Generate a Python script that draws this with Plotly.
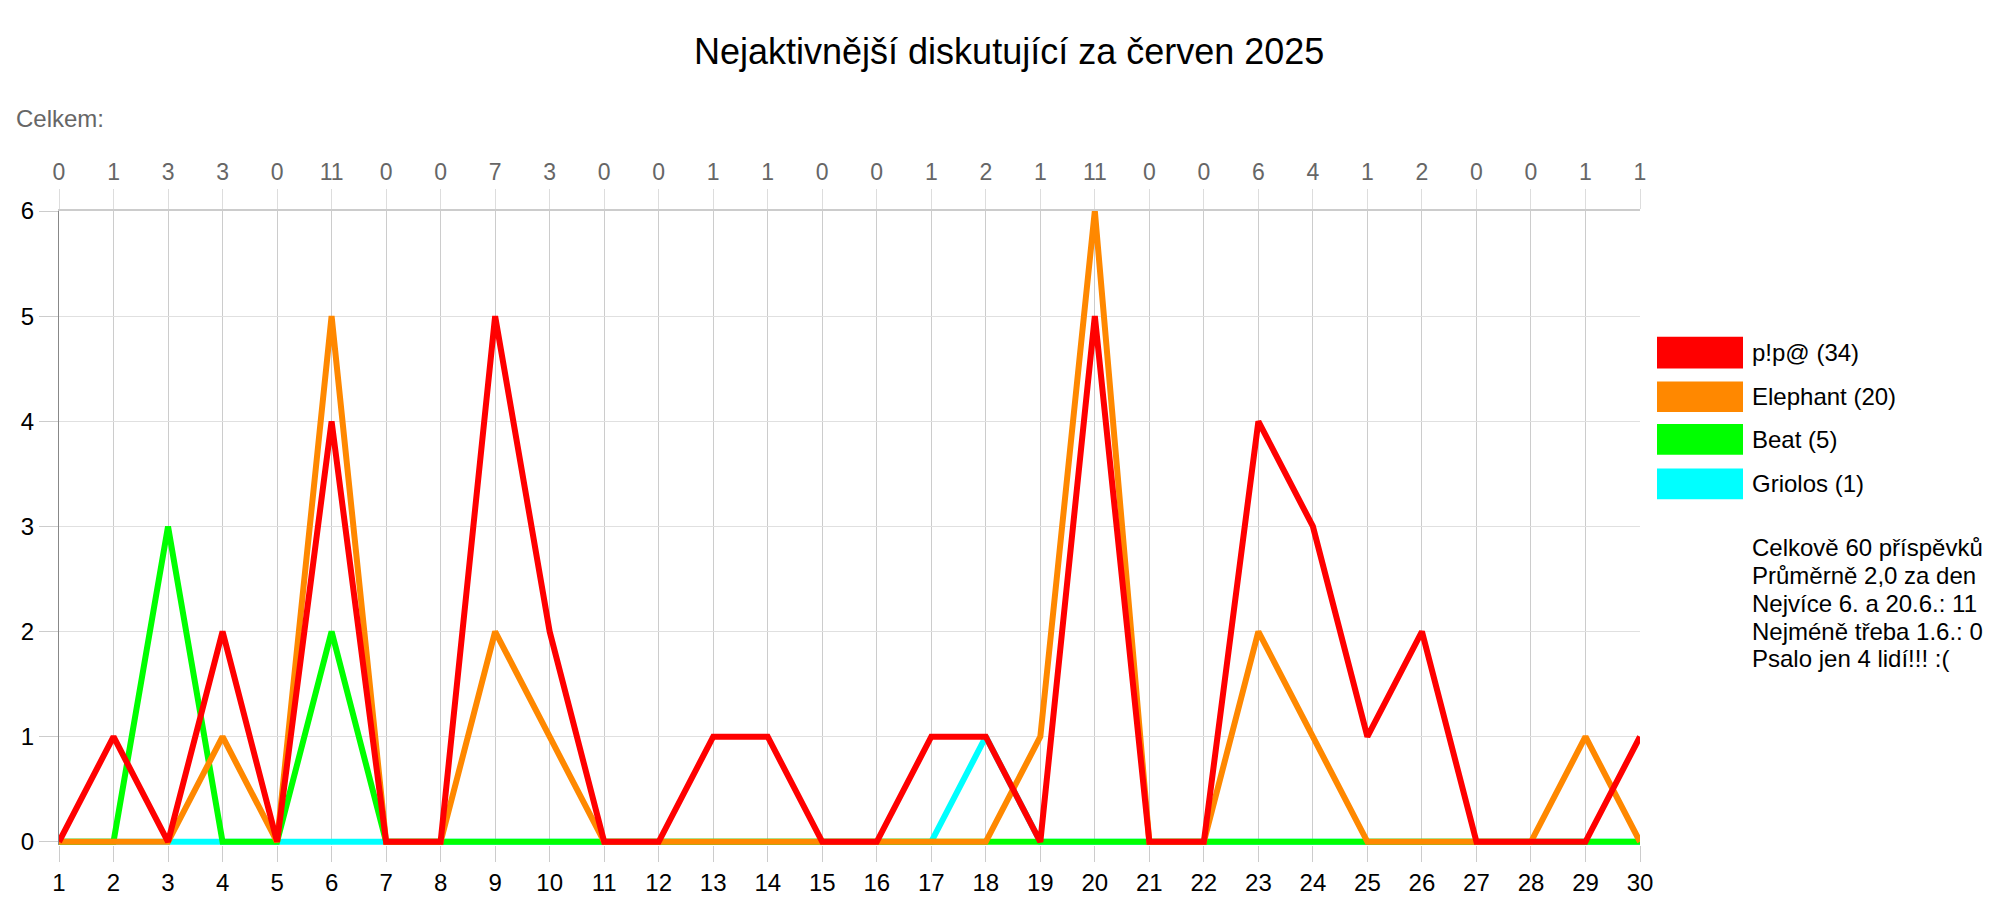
import plotly.graph_objects as go

days = list(range(1, 31))
totals = [0, 1, 3, 3, 0, 11, 0, 0, 7, 3, 0, 0, 1, 1, 0, 0, 1, 2, 1, 11, 0, 0, 6, 4, 1, 2, 0, 0, 1, 1]
pip = [0, 1, 0, 2, 0, 4, 0, 0, 5, 2, 0, 0, 1, 1, 0, 0, 1, 1, 0, 5, 0, 0, 4, 3, 1, 2, 0, 0, 0, 1]
elephant = [0, 0, 0, 1, 0, 5, 0, 0, 2, 1, 0, 0, 0, 0, 0, 0, 0, 0, 1, 6, 0, 0, 2, 1, 0, 0, 0, 0, 1, 0]
beat = [0, 0, 3, 0, 0, 2, 0, 0, 0, 0, 0, 0, 0, 0, 0, 0, 0, 0, 0, 0, 0, 0, 0, 0, 0, 0, 0, 0, 0, 0]
griolos = [0, 0, 0, 0, 0, 0, 0, 0, 0, 0, 0, 0, 0, 0, 0, 0, 0, 1, 0, 0, 0, 0, 0, 0, 0, 0, 0, 0, 0, 0]

names = ["p!p@ (34)", "Elephant (20)", "Beat (5)", "Griolos (1)"]
colors = ["#ff0000", "#ff8800", "#00ff00", "#00ffff"]
series = [pip, elephant, beat, griolos]
stats = ["Celkově 60 příspěvků", "Průměrně 2,0 za den", "Nejvíce 6. a 20.6.: 11",
         "Nejméně třeba 1.6.: 0", "Psalo jen 4 lidí!!! :("]

W, H = 2000, 900
L, R, T, B = 51, 368, 203, 57
PW, PH = W - L - R, H - T - B
FONT = "Liberation Sans, Arial, sans-serif"

def px(x):
    return (x - L) / PW

def py(y):
    return (H - B - y) / PH

fig = go.Figure()
# draw order: Griolos bottom, p!p@ on top
for i in [3, 2, 1, 0]:
    fig.add_trace(go.Scatter(x=days, y=series[i], mode="lines", name=names[i],
                             line=dict(color=colors[i], width=6), showlegend=False,
                             hoverinfo="x+y+name"))
# invisible trace on top axis
fig.add_trace(go.Scatter(x=days, y=[0] * len(days), xaxis="x2", mode="lines",
                         line=dict(width=0), showlegend=False, hoverinfo="skip",
                         text=totals))

shapes = []
annotations = []
leg_y = [(330, 362), (375, 406), (418, 449), (463, 494)]
for i, (y0, y1) in enumerate(leg_y):
    shapes.append(dict(type="rect", xref="paper", yref="paper", x0=px(1649), x1=px(1735),
                       y0=py(y1), y1=py(y0), fillcolor=colors[i], line=dict(width=0)))
    annotations.append(dict(xref="paper", yref="paper", x=px(1742), y=py((y0 + y1) / 2),
                            xanchor="left", yanchor="middle", showarrow=False, text=names[i],
                            font=dict(size=24, color="#000", family=FONT)))
for j, s in enumerate(stats):
    annotations.append(dict(xref="paper", yref="paper", x=px(1742), y=py(543 + j * 28),
                            xanchor="left", yanchor="middle", showarrow=False, text=s,
                            font=dict(size=24, color="#000", family=FONT)))
annotations.append(dict(xref="paper", yref="paper", x=px(1001), y=py(42), xanchor="center",
                        yanchor="middle", showarrow=False,
                        text="Nejaktivnější diskutující za červen 2025",
                        font=dict(size=36, color="#000", family=FONT)))
annotations.append(dict(xref="paper", yref="paper", x=px(6), y=py(110), xanchor="left",
                        yanchor="middle", showarrow=False, text="Celkem:",
                        font=dict(size=24, color="#666", family=FONT)))

fig.update_layout(
    width=W, height=H,
    margin=dict(l=L, r=R, t=T, b=B, pad=0),
    paper_bgcolor="white", plot_bgcolor="white",
    font=dict(family=FONT),
    xaxis=dict(range=[1, 30], tickmode="array", tickvals=days, ticktext=[str(d) for d in days],
               showgrid=True, gridcolor="#cccccc", gridwidth=1, zeroline=False,
               ticks="outside", ticklen=16, tickcolor="#cccccc", showline=False,
               tickfont=dict(size=24, color="#000", family=FONT)),
    xaxis2=dict(range=[1, 30], overlaying="x", side="top", tickmode="array", tickvals=days,
                ticktext=[str(t) for t in totals], showgrid=False, zeroline=False,
                ticks="outside", ticklen=20, tickcolor="#dddddd", showline=True,
                linecolor="#cccccc", linewidth=2,
                tickfont=dict(size=23, color="#666", family=FONT)),
    yaxis=dict(range=[-0.03, 6], tickmode="array", tickvals=[0, 1, 2, 3, 4, 5, 6],
               showgrid=True, gridcolor="#e0e0e0", gridwidth=1, zeroline=False,
               ticks="outside", ticklen=19, tickcolor="#cccccc", showline=True,
               linecolor="#888888", linewidth=1,
               tickfont=dict(size=24, color="#000", family=FONT)),
    shapes=shapes,
    annotations=annotations,
    showlegend=False,
)

fig.write_html("out.html")
